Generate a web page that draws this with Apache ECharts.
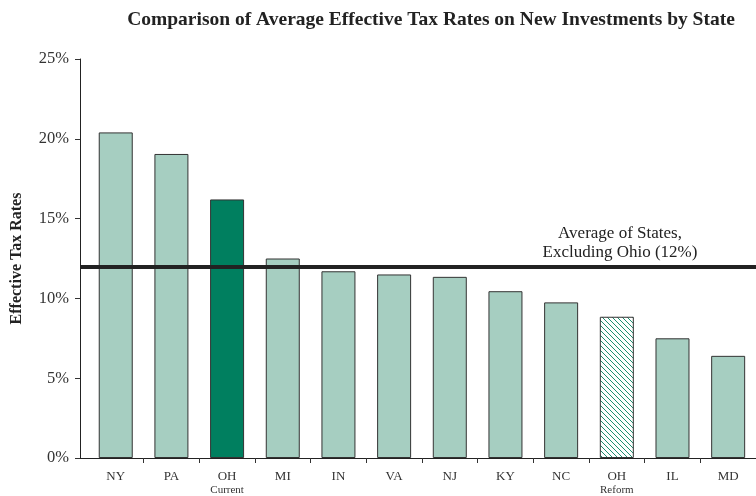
<!DOCTYPE html>
<html>
<head>
<meta charset="utf-8">
<script src="https://cdn.jsdelivr.net/npm/echarts@6/dist/echarts.min.js"></script>
<style>html,body{margin:0;padding:0;background:#fff}#c{width:756px;height:496px}</style>
</head>
<body>
<div id="c"></div>
<script>
// ---- data ----
var states = ['NY', 'PA', 'OH', 'MI', 'IN', 'VA', 'NJ', 'KY', 'NC', 'OH', 'IL', 'MD'];
var subLabels = ['', '', 'Current', '', '', '', '', '', '', 'Reform', '', ''];
var rates = [20.4, 19.05, 16.2, 12.5, 11.7, 11.5, 11.35, 10.45, 9.75, 8.85, 7.5, 6.4];
var averageRate = 12;
var averageLabel = 'Average of States,\nExcluding Ohio (12%)';
var yTicks = [0, 5, 10, 15, 20, 25];

// ---- styles ----
var FONT = '"Liberation Serif", "DejaVu Serif", serif';
var LIGHT = '#a6cec1';
var DARK = '#007f5f';

function hatch() {
  var c = document.createElement('canvas');
  c.width = 5; c.height = 5;
  var g = c.getContext('2d');
  g.fillStyle = '#ffffff';
  g.fillRect(0, 0, 5, 5);
  g.strokeStyle = '#1e9070';
  g.lineWidth = 1;
  for (var k = -5; k <= 5; k += 5) {
    g.beginPath();
    g.moveTo(k, 0);
    g.lineTo(k + 5, 5);
    g.stroke();
  }
  return c;
}
var hatchPattern = { image: hatch(), repeat: 'repeat' };

var barData = rates.map(function (v, i) {
  var color = LIGHT;
  if (subLabels[i] === 'Current') color = DARK;
  if (subLabels[i] === 'Reform') color = hatchPattern;
  return { value: [i, v], itemStyle: { color: color } };
});

var boundaries = [];
for (var i = 0; i < states.length - 1; i++) boundaries.push(i + 0.5);
var centers = states.map(function (s, i) { return i; });

var chart = echarts.init(document.getElementById('c'), null, { renderer: 'canvas' });
chart.setOption({
  animation: false,
  backgroundColor: '#ffffff',
  title: {
    text: 'Comparison of Average Effective Tax Rates on New Investments by State',
    left: 426, top: 5, textAlign: 'center',
    textStyle: { fontFamily: FONT, fontWeight: 'bold', fontSize: 19.5, color: '#222' }
  },
  grid: { left: 80, top: 59, width: 681, bottom: 38, containLabel: false },
  xAxis: {
    type: 'value',
    min: -0.642, max: 11.5,
    splitLine: { show: false },
    axisLine: { show: true, onZero: false, lineStyle: { color: '#222', width: 1 } },
    axisTick: { show: true, length: 5, customValues: boundaries, lineStyle: { color: '#333' } },
    axisLabel: {
      customValues: centers,
      margin: 12,
      fontFamily: FONT, fontSize: 13, color: '#333', lineHeight: 14,
      formatter: function (v) {
        var i = Math.round(v);
        return states[i] + (subLabels[i] ? '\n{s|' + subLabels[i] + '}' : '');
      },
      rich: { s: { fontFamily: FONT, fontSize: 11, color: '#333', lineHeight: 12 } }
    }
  },
  yAxis: {
    type: 'value', min: yTicks[0], max: yTicks[yTicks.length - 1], interval: 5,
    name: 'Effective Tax Rates', nameLocation: 'middle', nameGap: 55,
    nameTextStyle: { fontFamily: FONT, fontWeight: 'bold', fontSize: 16, color: '#222' },
    splitLine: { show: false },
    axisLine: { show: true, onZero: false, lineStyle: { color: '#222', width: 1 } },
    axisTick: { show: true, length: 5, lineStyle: { color: '#333' } },
    axisLabel: { margin: 11, fontFamily: FONT, fontSize: 16.5, color: '#333', formatter: '{value}%' }
  },
  series: [{
    type: 'bar',
    data: barData,
    barWidth: 34,
    itemStyle: { borderColor: '#333', borderWidth: 1 },
    markLine: {
      silent: true, symbol: 'none',
      lineStyle: { color: '#222', width: 4, type: 'solid' },
      label: { show: false },
      data: [{ yAxis: averageRate }]
    }
  }],
  graphic: [{
    type: 'text', x: 620, y: 224,
    style: { text: averageLabel, font: '17px ' + FONT, fill: '#222', align: 'center', lineHeight: 19 }
  }]
});
</script>
</body>
</html>
